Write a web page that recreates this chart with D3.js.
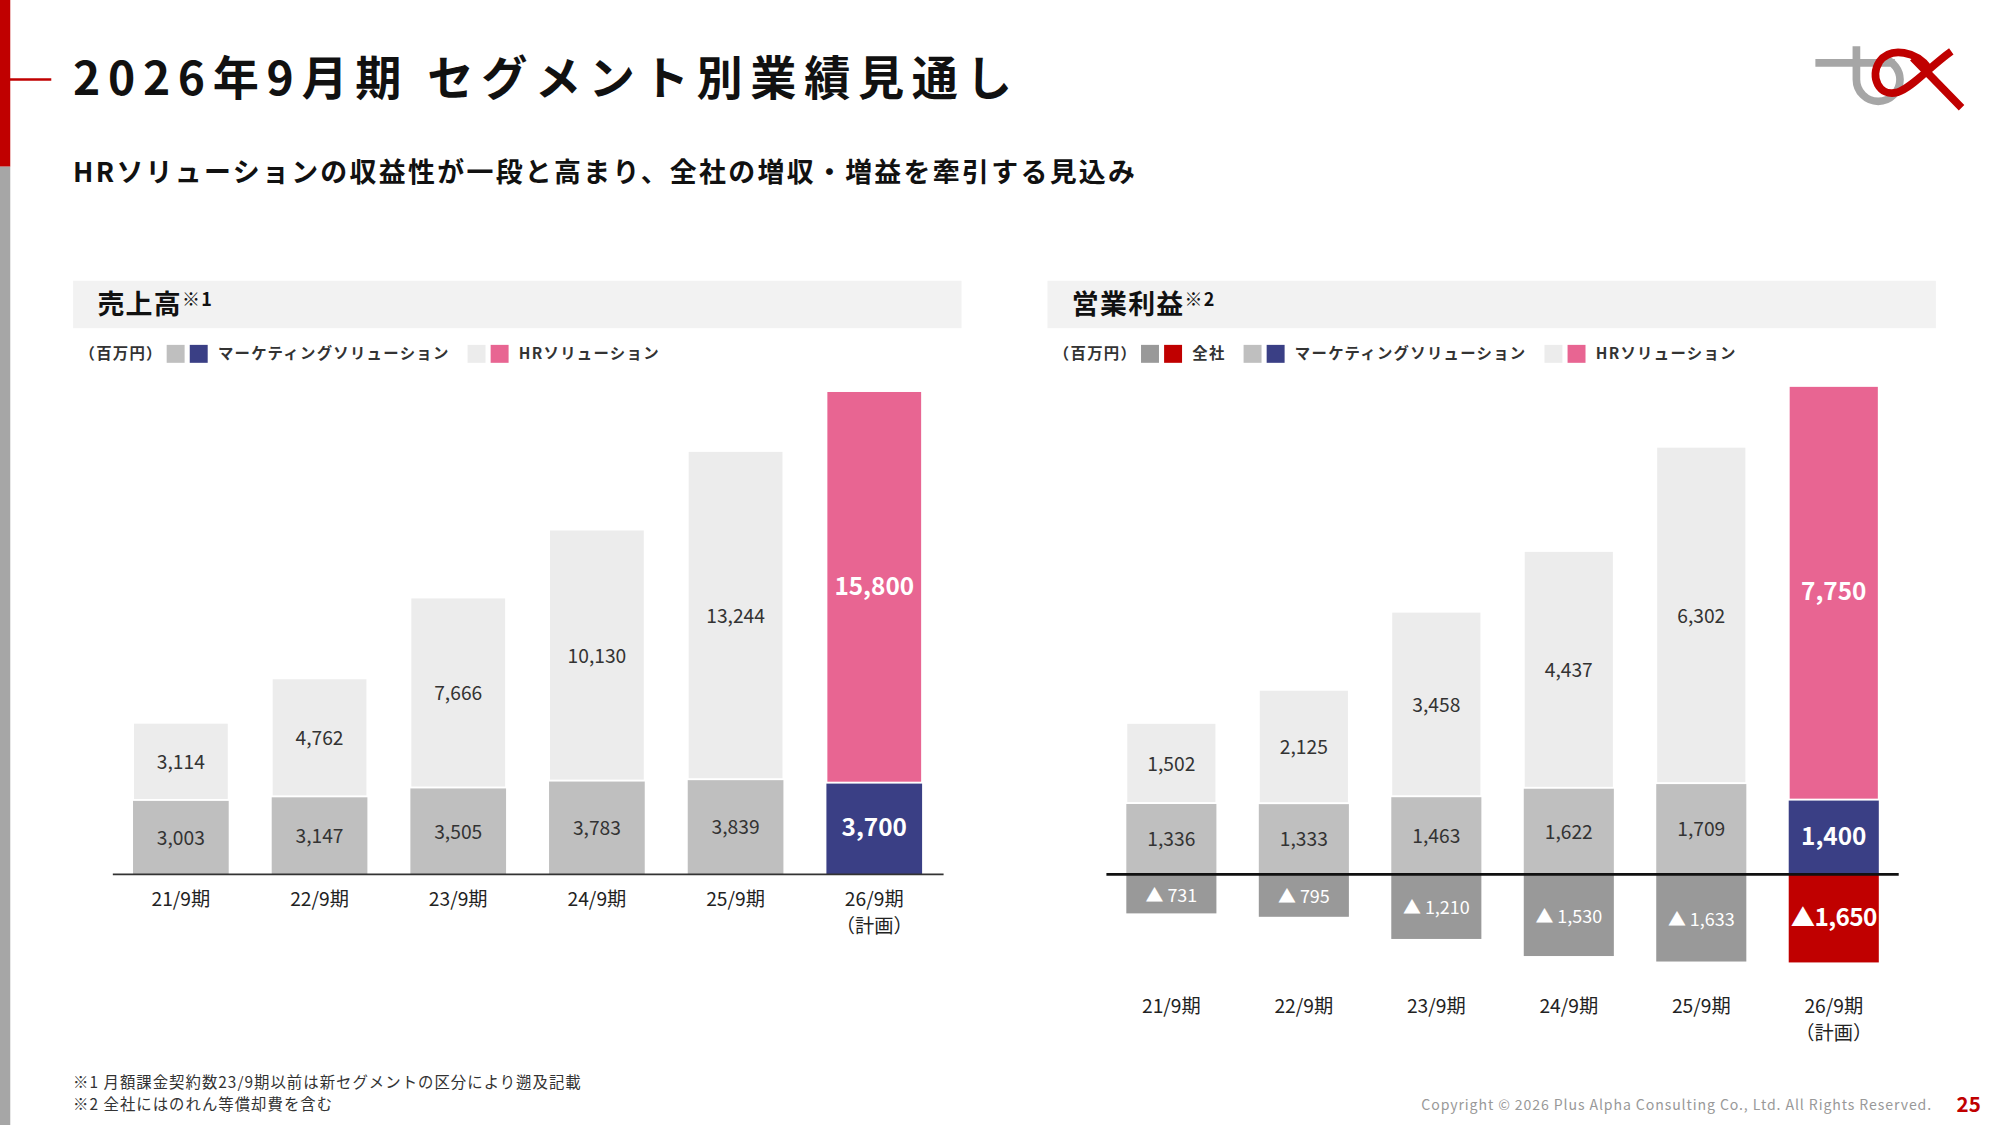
<!DOCTYPE html>
<html><head><meta charset="utf-8">
<script src="https://cdn.jsdelivr.net/npm/d3@7"></script>
<style>body{margin:0;background:#fff}svg{display:block}text{font-family:"Noto Sans CJK JP","Noto Sans",sans-serif}</style>
</head><body><svg id="c" width="2000" height="1125" viewBox="0 0 1560 877.5"></svg>
<script>
const categories = ["21/9期","22/9期","23/9期","24/9期","25/9期","26/9期"];
const salesMarketing = [3003,3147,3505,3783,3839,3700];
const salesHR = [3114,4762,7666,10130,13244,15800];
const opMarketing = [1336,1333,1463,1622,1709,1400];
const opHR = [1502,2125,3458,4437,6302,7750];
const opCorporate = [-731,-795,-1210,-1530,-1633,-1650];
const forecastIndex = 5;

const svg = d3.select("#c");
const fmt = d3.format(",");
svg.append("rect").attr("x",0).attr("y",0).attr("width",8).attr("height",130).attr("fill","#c00000");
svg.append("rect").attr("x",0).attr("y",130).attr("width",8).attr("height",750).attr("fill","#a6a6a6");
svg.append("line").attr("x1",0).attr("x2",40).attr("y1",62).attr("y2",62).attr("stroke","#c00000").attr("stroke-width",2);
svg.append("text").attr("x",57).attr("y",74).attr("font-size",36).attr("font-weight",700).attr("letter-spacing",6).attr("fill","#111").text("2026年9月期 セグメント別業績見通し");
svg.append("text").attr("x",57).attr("y",142).attr("font-size",21).attr("font-weight",700).attr("letter-spacing",1.8).attr("fill","#111").text("HRソリューションの収益性が一段と高まり、全社の増収・増益を牽引する見込み");
const lg = svg.append("g").attr("fill","none").attr("stroke-width",6);
lg.append("path").attr("d","M1416,49 H1478 M1448,36 V62 A17,17 0 1 0 1482,62 A17,17 0 0 0 1470,46").attr("stroke","#a6a6a6");
lg.append("path").attr("d","M1505,54 C1495,40 1475,36 1466,48 C1458,60 1466,76 1480,72 C1492,68 1505,52 1522,40 M1492,45 L1530,84").attr("stroke","#c00000");
svg.append("text").attr("x",57).attr("y",849).attr("font-size",12).attr("letter-spacing",0.8).attr("fill","#333").text("※1 月額課金契約数23/9期以前は新セグメントの区分により遡及記載");
svg.append("text").attr("x",57).attr("y",866).attr("font-size",12).attr("letter-spacing",0.8).attr("fill","#333").text("※2 全社にはのれん等償却費を含む");
svg.append("text").attr("x",1507).attr("y",866).attr("text-anchor","end").attr("font-size",11).attr("letter-spacing",0.7).attr("fill","#999").text("Copyright © 2026 Plus Alpha Consulting Co., Ltd. All Rights Reserved.");
svg.append("text").attr("x",1545).attr("y",867).attr("text-anchor","end").attr("font-size",16).attr("font-weight",700).attr("fill","#c00000").text("25");

function header(x,title){
  svg.append("rect").attr("x",x).attr("y",219).attr("width",693).attr("height",37).attr("fill","#f2f2f2");
  svg.append("text").attr("x",x+19).attr("y",245).attr("font-size",21).attr("font-weight",700).attr("letter-spacing",1).attr("fill","#111").text(title[0]).append("tspan").attr("font-size",14).attr("dy",-6).text(title[1]);
}
header(57,["売上高","※1"]);header(817,["営業利益","※2"]);

function legend(x,items){
  const g=svg.append("g").attr("font-size",12).attr("font-weight",700).attr("fill","#333").attr("letter-spacing",1);
  g.append("text").attr("x",x).attr("y",280).text("（百万円）");
  let cx=x+68;
  items.forEach(it=>{
    g.append("rect").attr("x",cx).attr("y",269).attr("width",14).attr("height",14).attr("fill",it[0]);
    g.append("rect").attr("x",cx+18).attr("y",269).attr("width",14).attr("height",14).attr("fill",it[1]);
    const t=g.append("text").attr("x",cx+40).attr("y",280).text(it[2]);
    cx+=40+t.node().getComputedTextLength()+14;
  });
}
legend(62,[["#bfbfbf","#3a3f85","マーケティングソリューション"],["#ececec","#e86592","HRソリューション"]]);
legend(822,[["#999999","#c00000","全社"],["#bfbfbf","#3a3f85","マーケティングソリューション"],["#ececec","#e86592","HRソリューション"]]);

function chart(o){
  const x=d3.scaleBand().domain(categories).range([o.x0,o.x1]).paddingInner(o.pad).paddingOuter(o.pad/2);
  const y=d3.scaleLinear().domain([o.min,o.max]).range([o.bottom,o.top]);
  const g=svg.append("g");
  categories.forEach((c,i)=>{
    const f=i===forecastIndex;
    const segs=[[0,o.m[i],f?"#3a3f85":"#bfbfbf"],[o.m[i],o.m[i]+o.h[i],f?"#e86592":"#ececec"]];
    if(o.n) segs.push([o.n[i],0,f?"#c00000":"#999999"]);
    segs.forEach((s,k)=>{
      const y0=y(Math.max(s[0],s[1])),y1=y(Math.min(s[0],s[1]));
      g.append("rect").attr("x",x(c)).attr("width",x.bandwidth()).attr("y",y0).attr("height",y1-y0).attr("fill",s[2]).attr("stroke","#fff").attr("stroke-width",k==1?1.5:0);
      const val=s[1]-s[0];
      g.append("text").attr("x",x(c)+x.bandwidth()/2).attr("y",(y0+y1)/2+6)
        .attr("text-anchor","middle").attr("font-size",f?19:(k==2?14:15)).attr("font-weight",f?700:400)
        .attr("letter-spacing",f&&k==2?-0.5:0)
        .attr("fill",f||k==2?"#fff":"#333").attr("font-family",'Roboto,"Noto Sans",sans-serif')
        .text(k==2?"▲"+(f?"":" ")+fmt(-s[0]):fmt(val));
    });
  });
  g.append("line").attr("x1",o.ax0).attr("x2",o.ax1).attr("y1",y(0)).attr("y2",y(0)).attr("stroke",o.n?"#111":"#333").attr("stroke-width",o.n?2:1.2);
  categories.forEach((c,i)=>{
    g.append("text").attr("x",x(c)+x.bandwidth()/2).attr("y",o.ly).attr("text-anchor","middle").attr("font-size",15).attr("fill","#222").text(c);
    if(i===forecastIndex) g.append("text").attr("x",x(c)+x.bandwidth()/2).attr("y",o.ly+21).attr("text-anchor","middle").attr("font-size",15).attr("fill","#222").text("（計画）");
  });
}
chart({x0:87,x1:736,pad:0.31,min:0,max:19500,bottom:682,top:305,m:salesMarketing,h:salesHR,ax0:88,ax1:736,ly:707});
chart({x0:862,x1:1482,pad:0.32,min:-1650,max:9150,bottom:750.7,top:301,m:opMarketing,h:opHR,n:opCorporate,ax0:863,ax1:1481,ly:790});
</script></body></html>
